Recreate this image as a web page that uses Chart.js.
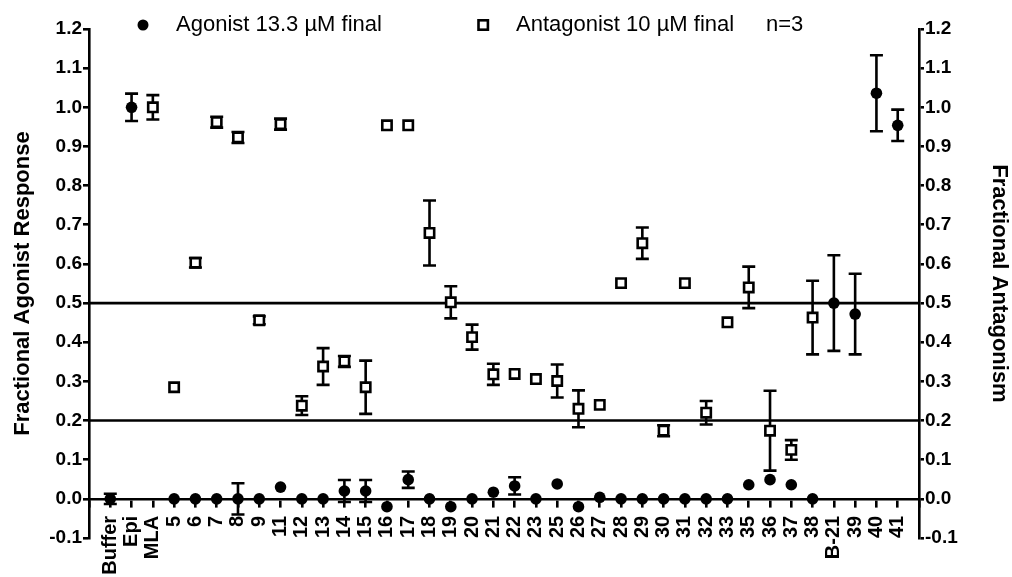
<!DOCTYPE html>
<html>
<head>
<meta charset="utf-8">
<script src="https://cdn.jsdelivr.net/npm/chart.js@4.4.1/dist/chart.umd.min.js"></script>
<style>
  html, body { margin: 0; padding: 0; background: #fff; }
  #wrap { width: 1012px; height: 577px; }
</style>
</head>
<body>
<div id="wrap"><canvas id="chart" width="1012" height="577"></canvas></div>
<script>
// compounds along the x axis
const compounds = ["Buffer", "Epi", "MLA", "5", "6", "7", "8", "9", "11", "12",
  "13", "14", "15", "16", "17", "18", "19", "20", "21", "22",
  "23", "25", "26", "27", "28", "29", "30", "31", "32", "33",
  "35", "36", "37", "38", "B-21", "39", "40", "41"];

// agonist 13.3 uM (filled circles), null = not tested
const agonist = [0, 1.0, null, 0, 0, 0, 0, 0, 0.03, 0,
  0, 0.02, 0.02, -0.02, 0.049, 0, -0.02, 0, 0.017, 0.033,
  0, 0.038, -0.02, 0.004, 0, 0, 0, 0, 0, 0,
  0.036, 0.049, 0.036, 0, 0.50, 0.472, 1.036, 0.954];
const agonistErr = [0.013, 0.035, 0, 0, 0, 0, 0.04, 0, 0, 0,
  0, 0.028, 0.028, 0, 0.021, 0, 0, 0, 0, 0.022,
  0, 0, 0, 0, 0, 0, 0, 0, 0, 0,
  0, 0, 0, 0, 0.122, 0.103, 0.097, 0.04];

// antagonist 10 uM (open squares)
const antagonist = [null, null, 1.0, 0.285, 0.603, 0.962, 0.923, 0.456, 0.957, 0.238,
  0.338, 0.351, 0.285, 0.954, 0.954, 0.679, 0.502, 0.413, 0.318, 0.319,
  0.306, 0.301, 0.23, 0.24, 0.551, 0.653, 0.174, 0.551, 0.22, 0.451,
  0.54, 0.174, 0.125, 0.463, null, null, null, null];
const antagonistErr = [0, 0, 0.031, 0, 0.012, 0.014, 0.014, 0.01, 0.014, 0.024,
  0.047, 0.014, 0.068, 0, 0, 0.083, 0.041, 0.032, 0.027, 0,
  0, 0.042, 0.047, 0, 0, 0.04, 0.014, 0, 0.03, 0,
  0.053, 0.102, 0.025, 0.094, 0, 0, 0, 0];

// horizontal cut-off lines
const cutoffs = [0.5, 0.2];

const FONT = "'Liberation Sans', Arial, sans-serif";

function toPoints(values) {
  const pts = [];
  values.forEach((v, i) => {
    if (v !== null) pts.push({ x: i, y: v });
  });
  return pts;
}

// error bars, drawn under the markers
const errorBars = {
  id: "errorBars",
  beforeDatasetsDraw(chart) {
    const ctx = chart.ctx;
    const xs = chart.scales.x, ys = chart.scales.y;
    ctx.save();
    ctx.strokeStyle = "#000";
    ctx.lineWidth = 2.6;
    chart.data.datasets.forEach(ds => {
      if (!ds.errors) return;
      ds.data.forEach(p => {
        const e = ds.errors[p.x];
        if (!e) return;
        const x = xs.getPixelForValue(p.x);
        const yTop = ys.getPixelForValue(p.y + e);
        const yBot = ys.getPixelForValue(p.y - e);
        ctx.beginPath();
        ctx.moveTo(x, yTop); ctx.lineTo(x, yBot);
        ctx.moveTo(x - 6.5, yTop); ctx.lineTo(x + 6.5, yTop);
        ctx.moveTo(x - 6.5, yBot); ctx.lineTo(x + 6.5, yBot);
        ctx.stroke();
      });
    });
    ctx.restore();
  }
};

// legend row across the top of the plot
const topLegend = {
  id: "topLegend",
  afterDraw(chart) {
    const ctx = chart.ctx;
    const y = 25;
    ctx.save();
    ctx.font = "22px " + FONT;
    ctx.fillStyle = "#000";
    ctx.textBaseline = "middle";
    ctx.textAlign = "left";
    // filled circle
    ctx.beginPath();
    ctx.arc(143, y, 5.5, 0, Math.PI * 2);
    ctx.fill();
    ctx.fillText("Agonist 13.3 \u00B5M final", 176, y);
    // open square
    ctx.lineWidth = 2.6;
    ctx.strokeStyle = "#000";
    ctx.strokeRect(478.5, y - 4.7, 9.4, 9.4);
    ctx.fillText("Antagonist 10 \u00B5M final", 516, y);
    ctx.fillText("n=3", 766, y);
    ctx.restore();
  }
};

const yTickStyle = {
  color: "#000",
  font: { family: FONT, size: 19, weight: "bold" },
  padding: 1,
  stepSize: 0.1,
  callback: v => v.toFixed(1)
};

new Chart(document.getElementById("chart"), {
  type: "scatter",
  data: {
    datasets: [
      {
        label: "Agonist 13.3 \u00B5M final",
        data: toPoints(agonist),
        errors: agonistErr,
        pointStyle: "circle",
        pointRadius: 5.8,
        pointBackgroundColor: "#000",
        pointBorderWidth: 0,
        yAxisID: "y"
      },
      {
        label: "Antagonist 10 \u00B5M final",
        data: toPoints(antagonist),
        errors: antagonistErr,
        pointStyle: "rect",
        pointRadius: 6.6,
        pointBackgroundColor: "#fff",
        pointBorderColor: "#000",
        pointBorderWidth: 2.6,
        yAxisID: "y"
      },
      ...cutoffs.map(c => ({
        label: "cutoff " + c,
        data: [{ x: -1, y: c }, { x: compounds.length, y: c }],
        showLine: true,
        borderColor: "#000",
        borderWidth: 2.6,
        pointRadius: 0,
        yAxisID: "y"
      }))
    ]
  },
  options: {
    responsive: false,
    animation: false,
    devicePixelRatio: 1,
    // the x axis sits on y = 0 and takes no room of its own
    layout: { padding: { top: 29, left: 0, right: 0, bottom: 39 } },
    plugins: {
      legend: { display: false },
      tooltip: { enabled: false }
    },
    scales: {
      x: {
        type: "linear",
        position: { y: 0 },
        min: -1,
        max: compounds.length,
        grid: { drawOnChartArea: false, color: "#000", lineWidth: 2.6, tickLength: 7 },
        border: { color: "#000", width: 2.6 },
        ticks: {
          stepSize: 1,
          autoSkip: false,
          maxRotation: 90,
          minRotation: 90,
          padding: 10,
          color: "#000",
          font: { family: FONT, size: 20, weight: "bold" },
          callback: v => compounds[Math.round(v)] || ""
        }
      },
      y: {
        position: "left",
        min: -0.1,
        max: 1.2,
        afterFit: s => { s.width = 89; },
        grid: { drawOnChartArea: false, color: "#000", lineWidth: 2.6, tickLength: 6 },
        border: { color: "#000", width: 2.6 },
        ticks: yTickStyle,
        title: {
          display: true,
          text: "Fractional Agonist Response",
          color: "#000",
          font: { family: FONT, size: 22, weight: "bold" },
          padding: { top: 10, bottom: 0 }
        }
      },
      y2: {
        position: "right",
        min: -0.1,
        max: 1.2,
        afterFit: s => { s.width = 93; },
        grid: { drawOnChartArea: false, color: "#000", lineWidth: 2.6, tickLength: 5 },
        border: { color: "#000", width: 2.6 },
        ticks: yTickStyle,
        title: {
          display: true,
          text: "Fractional Antagonism",
          color: "#000",
          font: { family: FONT, size: 22, weight: "bold" },
          padding: { top: 0, bottom: 0 }
        }
      }
    }
  },
  plugins: [errorBars, topLegend]
});
</script>
</body>
</html>
